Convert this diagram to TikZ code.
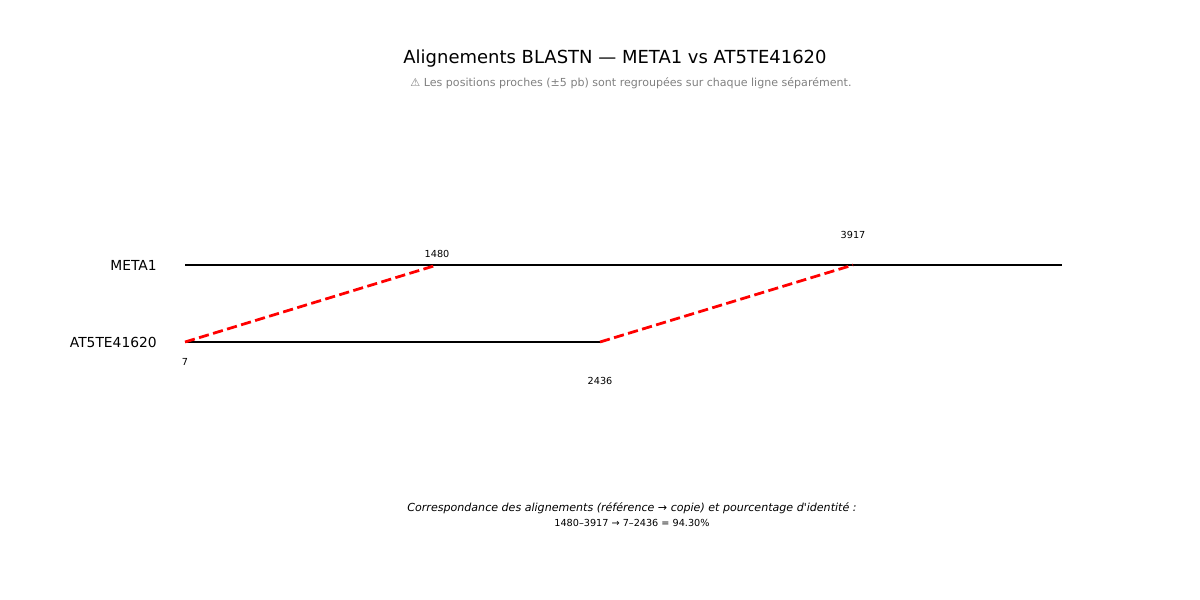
\documentclass[tikz,border=0pt]{standalone}
\usepackage{fontspec}
\setmainfont{DejaVu Sans}
\usetikzlibrary{positioning, calc}
\definecolor{hintgray}{RGB}{128, 128, 128}

\begin{document}
\begin{tikzpicture}[x=0.0254cm, y=-0.0254cm,
  seqline/.style={line width=2pt, black},
  hitline/.style={line width=2pt, red, dash pattern=on 7.4pt off 3.2pt},
  seqname/.style={anchor=east, inner sep=0pt, font=\fontsize{10}{12}\selectfont},
  poslabel/.style={inner sep=0pt, font=\fontsize{7}{8}\selectfont}
]
  \useasboundingbox (0,0) rectangle (1200,600);

  % titre
  \node[inner sep=0pt, font=\fontsize{13}{15}\selectfont] (title) at (615, 59) {Alignements BLASTN — META1 vs AT5TE41620};
  \node[inner sep=0pt, text=hintgray, font=\fontsize{8}{10}\selectfont] (note) at (631, 83) {⚠ Les positions proches (±5 pb) sont regroupées sur chaque ligne séparément.};

  % sequences
  \coordinate (refA) at (185, 265);
  \coordinate (refB) at (1062, 265);
  \coordinate (cpyA) at (185, 342);
  \coordinate (cpyB) at (600, 342);
  \coordinate (ref1480) at (437, 265);
  \coordinate (ref3917) at (853, 265);
  \node[seqname] (refname) at (157, 265) {META1};
  \node[seqname] (cpyname) at (157, 342) {AT5TE41620};
  \draw[seqline] (refA) -- (refB);
  \draw[seqline] (cpyA) -- (cpyB);

  % correspondances
  \draw[hitline] (cpyA) -- (ref1480);
  \draw[hitline] (cpyB) -- (ref3917);

  \node[poslabel] (lab1480) at (437, 254) {1480};
  \node[poslabel] (lab3917) at (853, 235) {3917};
  \node[poslabel] (lab7) at (185, 362) {7};
  \node[poslabel] (lab2436) at (600, 381) {2436};

  % legende
  \node[inner sep=0pt, font=\fontsize{8}{10}\selectfont\itshape] (legend) at (632, 508) {Correspondance des alignements (référence → copie) et pourcentage d\textquotesingle identité :};
  \node[inner sep=0pt, font=\fontsize{7}{8}\selectfont] (summary) at (632, 523) {1480–3917 → 7–2436 = 94.30\%};
\end{tikzpicture}
\end{document}
